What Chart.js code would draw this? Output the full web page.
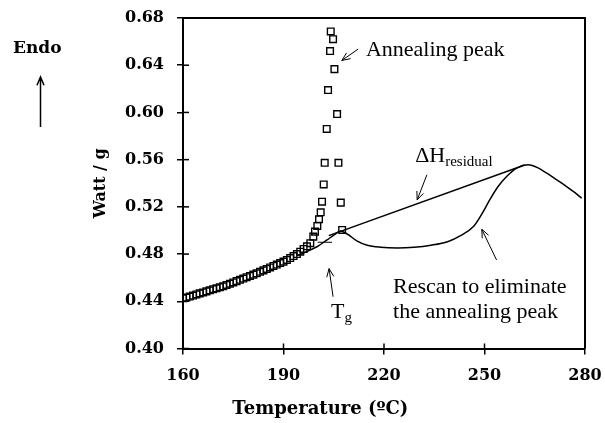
<!DOCTYPE html>
<html><head><meta charset="utf-8">
<script src="https://cdn.jsdelivr.net/npm/chart.js@4/dist/chart.umd.min.js"></script>
<style>html,body{margin:0;padding:0;background:#fff;}#wrap{width:605px;height:423px;}</style>
</head><body><div id="wrap"><canvas id="c" width="605" height="423"></canvas></div>
<script>
// Annealed sample scan (open squares)
const annealTemps = [160,161,162,163,164,165,166,167,168,169,170,171,172,173,174,175,176,177,178,179,180,181,182,183,184,185,186,187,188,189,190,191,192,193,194,195,196,197,198,
  198.9,199.4,200.1,200.6,201.1,201.5,202.0,202.3,202.9,203.3,203.9,204.1,204.8,205.2,206.0,206.4,207.1,207.5];
const annealWatts = [0.4425,0.4432,0.4440,0.4449,0.4458,0.4467,0.4475,0.4484,0.4493,0.4502,0.4510,0.4519,0.4527,0.4538,0.4549,0.4560,0.4571,0.4582,0.4593,0.4604,0.4615,0.4626,0.4637,0.4650,0.4662,0.4674,0.4687,0.4699,0.4711,0.4724,0.4736,0.4750,0.4766,0.4783,0.4800,0.4820,0.4843,0.4866,0.4892,
  0.4948,0.4990,0.5038,0.5095,0.5154,0.5244,0.5390,0.5573,0.5860,0.6190,0.6520,0.6686,0.6620,0.6367,0.5986,0.5573,0.5236,0.5004];
// Rescan (solid curve)
const rescanTemps = [194,197,200,203,205,207,209,212,215,219,224,229,234,239,243,246.7,249,251.6,254,256.6,259.6,263,266,268.6,271.5,274.5,277,279];
const rescanWatts = [0.4785,0.4822,0.4862,0.4920,0.4960,0.4995,0.4970,0.4910,0.4875,0.4858,0.4852,0.4858,0.4875,0.4905,0.4958,0.5033,0.5130,0.5261,0.5370,0.5457,0.5528,0.5556,0.5530,0.5485,0.5430,0.5372,0.5320,0.5273];
// Residual enthalpy baseline
const baselineTemps = [203.5, 262];
const baselineWatts = [0.4956, 0.5555];
// Tg marker
const tgMarkTemps = [200.2, 204.5];
const tgMarkWatts = [0.4900, 0.4900];
// Axis ticks
const xTicks = [160, 190, 220, 250, 280];
const yTicks = [0.40, 0.44, 0.48, 0.52, 0.56, 0.60, 0.64, 0.68];

const pts = (xs, ys) => xs.map((x, i) => ({x, y: ys[i]}));

const annotations = [
  {text: 'Annealing peak', x: 214.6, y: 0.6474},
  {text: 'Rescan to eliminate', x: 222.7, y: 0.4470},
  {text: 'the annealing peak', x: 222.7, y: 0.4258},
  {text: 'ΔH', sub: 'residual', x: 229.3, y: 0.5584},
  {text: 'T', sub: 'g', x: 204.2, y: 0.4260}
];
const arrows = [
  {x1: 212.3, y1: 0.6537, x2: 207.4, y2: 0.6440},
  {x1: 232.8, y1: 0.5471, x2: 229.9, y2: 0.5259},
  {x1: 253.6, y1: 0.4750, x2: 249.2, y2: 0.5010},
  {x1: 204.8, y1: 0.4439, x2: 203.6, y2: 0.4677}
];
const BOLD = '"DejaVu Serif"';

function arrowHead(ctx, x1, y1, x2, y2, len) {
  const a = Math.atan2(y2 - y1, x2 - x1);
  ctx.beginPath();
  ctx.moveTo(x1, y1); ctx.lineTo(x2, y2);
  ctx.moveTo(x2 - len * Math.cos(a - 0.4), y2 - len * Math.sin(a - 0.4));
  ctx.lineTo(x2, y2);
  ctx.lineTo(x2 - len * Math.cos(a + 0.4), y2 - len * Math.sin(a + 0.4));
  ctx.stroke();
}

function noScalePadding(s) { s.paddingLeft = 0; s.paddingRight = 0; s.paddingTop = 0; s.paddingBottom = 0; }

const decor = {
  id: 'decor',
  afterDraw(chart) {
    const {ctx, chartArea: ca, scales: {x, y}} = chart;
    ctx.save();
    ctx.strokeStyle = '#000';
    ctx.lineWidth = 2;
    ctx.beginPath();
    ctx.moveTo(ca.left, ca.top); ctx.lineTo(ca.right, ca.top); ctx.lineTo(ca.right, ca.bottom);
    ctx.stroke();
    ctx.lineWidth = 1.5;
    xTicks.forEach(v => { const px = x.getPixelForValue(v); ctx.beginPath(); ctx.moveTo(px, ca.bottom); ctx.lineTo(px, ca.bottom - 5); ctx.stroke(); });
    yTicks.forEach(v => { const py = y.getPixelForValue(v); ctx.beginPath(); ctx.moveTo(ca.left, py); ctx.lineTo(ca.left + 6, py); ctx.stroke(); });
    ctx.fillStyle = '#000';
    ctx.textBaseline = 'alphabetic';
    ctx.textAlign = 'left';
    annotations.forEach(a => {
      const px = x.getPixelForValue(a.x), py = y.getPixelForValue(a.y);
      ctx.font = '22px "Liberation Serif"';
      ctx.fillText(a.text, px, py);
      if (a.sub) {
        const w = ctx.measureText(a.text).width;
        ctx.font = '15px "Liberation Serif"';
        ctx.fillText(a.sub, px + w, py + 4);
      }
    });
    ctx.lineWidth = 1;
    arrows.forEach(r => arrowHead(ctx, x.getPixelForValue(r.x1), y.getPixelForValue(r.y1), x.getPixelForValue(r.x2), y.getPixelForValue(r.y2), 9));
    // Endo label and arrow (outside the plot)
    ctx.font = 'bold 17px ' + BOLD;
    ctx.fillText('Endo', 13, 53);
    ctx.lineWidth = 1.5;
    arrowHead(ctx, 40.5, 127, 40.5, 77, 9);
    // x-axis title (offset left of plot centre as in the source figure)
    ctx.font = 'bold 18px ' + BOLD;
    ctx.textAlign = 'center';
    ctx.textBaseline = 'middle';
    ctx.fillText('Temperature (ºC)', x.getPixelForValue(201), 409);
    ctx.restore();
  }
};

const tickFont = {family: BOLD, size: 16, weight: 'bold'};

new Chart(document.getElementById('c'), {
  type: 'scatter',
  data: {
    datasets: [
      {data: pts(annealTemps, annealWatts), showLine: false, pointStyle: 'rect', pointRadius: 4.7, borderColor: '#000', backgroundColor: 'rgba(0,0,0,0)', borderWidth: 1.4},
      {data: pts(rescanTemps, rescanWatts), showLine: true, pointRadius: 0, borderColor: '#000', borderWidth: 1.5, cubicInterpolationMode: 'monotone'},
      {data: pts(baselineTemps, baselineWatts), showLine: true, pointRadius: 0, borderColor: '#000', borderWidth: 1.5},
      {data: pts(tgMarkTemps, tgMarkWatts), showLine: true, pointRadius: 0, borderColor: '#000', borderWidth: 1.2}
    ]
  },
  options: {
    responsive: false,
    animation: false,
    devicePixelRatio: 1,
    layout: {padding: {left: 0, right: 20, top: 18, bottom: 0}},
    plugins: {legend: {display: false}, tooltip: {enabled: false}},
    scales: {
      x: {
        type: 'linear', min: 160, max: 280,
        afterBuildTicks: s => { s.ticks = xTicks.map(v => ({value: v})); },
        afterFit: s => { s.height = 74.5; noScalePadding(s); },
        ticks: {color: '#000', font: tickFont, padding: 12, callback: v => String(v)},
        grid: {drawOnChartArea: false, drawTicks: true, tickLength: 6, color: '#000', lineWidth: 1.5},
        border: {display: true, color: '#000', width: 2},
        title: {display: false}
      },
      y: {
        type: 'linear', min: 0.40, max: 0.68,
        afterBuildTicks: s => { s.ticks = yTicks.map(v => ({value: v})); },
        afterFit: s => { s.width = 183; noScalePadding(s); },
        ticks: {color: '#000', font: tickFont, padding: 13, callback: v => v.toFixed(2)},
        grid: {drawOnChartArea: false, drawTicks: true, tickLength: 6, color: '#000', lineWidth: 1.5},
        border: {display: true, color: '#000', width: 2},
        title: {display: true, text: 'Watt / g', color: '#000', font: {family: BOLD, size: 16, weight: 'bold'}, padding: {top: 91, bottom: 0}}
      }
    }
  },
  plugins: [decor]
});
</script>
</body></html>
